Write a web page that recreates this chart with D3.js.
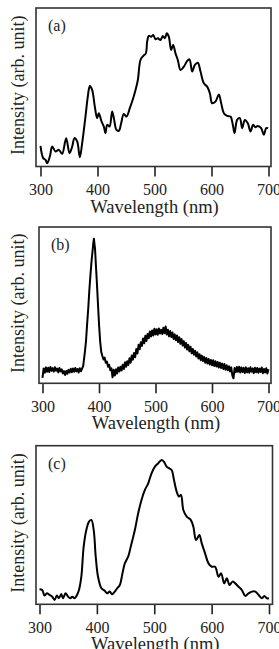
<!DOCTYPE html>
<html>
<head>
<meta charset="utf-8">
<script src="https://cdn.jsdelivr.net/npm/d3@7"></script>
<style>
  body { margin: 0; background: #fff; }
  svg { display: block; }
</style>
</head>
<body>
<div id="chart"></div>
<script>
// Data (intensity in arb. units, 0-100 of panel height)
var waveA = [300,304.7,308.8,311.7,316.4,320.5,326.3,332.2,338,345,350.9,355.6,359.6,364.3,369,373.1,378.9,383,386.6,390.6,395.3,399.4,402.3,407,411.1,414,417,421.1,425.7,428.7,433.3,437.4,441.5,446.2,450.9,456.7,462.6,466.7,470.8,475.4,480.1,484.8,487.1,490.1,494.2,497.7,501.8,505.9,510.5,514.6,518.1,521.6,525.1,529.2,532.7,536.8,540.9,545.6,551.5,557.3,561.4,566.1,570.8,576,580.7,586.6,592.4,597.1,601.2,607,612.9,617,621.7,627.5,633.3,637.4,640.4,645,649.7,653.8,658.5,663.7,668.4,673.1,677.2,681.3,687.1,691.8,695.9,699.4];
var intA = [13,5.3,4.2,2.1,6.3,12.6,9.5,10.5,8,17.9,8.4,12.6,17.9,15.8,5.9,14.7,31.5,44.1,50.8,48.3,37.8,30.5,33.6,28.4,25.2,21,26.3,25.2,34.7,30.5,23.1,22.5,27.3,33.2,31.5,36.8,43.1,48.3,54.6,67.2,69.7,71.4,78.8,82.4,81.9,83,80.3,80.9,79.8,82.4,80.9,84,81.9,73.5,76.7,71.4,67.2,60.9,63,66.6,67.6,59.9,64.1,65.5,59.9,52.5,50.4,46.2,39.9,41,45.4,39.9,33.6,31.9,31.5,26.3,21,29.4,30.5,24.2,29.4,27.3,22.1,26.3,24.8,25.6,24.2,20,24.2,24.2];

// panel (b): [wavelength, intensity] pairs, noisy trace
var specB = [
	[300,3.5],[302,9.5],[304,6.8],[306,10.2],[308,7.4],[310,9.9],[312,7.2],[314,10.4],[316,8],[318,9.7],
	[320,7.5],[322,10.3],[324,8.1],[326,9.4],[328,7],[330,9.8],[332,7.6],[334,8.9],[336,6.3],[338,7.8],
	[340,5.4],[342,7.9],[344,6.1],[346,8.6],[348,6.9],[350,9.3],[352,7.1],[354,9.5],[356,7.4],[358,9.8],
	[360,7.6],[362,9.2],[364,6.9],[366,9.6],[368,7.7],[370,9.4],[372,11],[373,14],[375,20],[377,27],
	[379,38],[381,48],[383,60],[385,70],[387,79],[389,86],[390,90],[391,92.5],[392,89],[393,86],
	[394,79],[396,66],[398,52],[400,38],[402,27],[404,20],[406,17.5],[408,15.2],[410,16.4],[412,13.1],
	[414,13.9],[416,10.6],[418,11.8],[420,8.4],[422,9.6],[424,3.8],[426,8.6],[428,5],[430,9],[432,6.2],
	[434,10.1],[436,7.5],[438,10.6],[440,8.2],[442,11.9],[444,9.1],[446,13.4],[448,10.6],[450,14.1],[452,11.8],
	[454,16],[456,13.2],[458,17.8],[460,15.1],[462,19.4],[464,16.7],[466,21.9],[468,19],[470,24.6],[472,21.8],
	[474,26.3],[476,23.9],[478,28.7],[480,25.6],[482,30.4],[484,27.1],[486,31.6],[488,28.8],[490,33.2],[492,29.9],
	[494,33.8],[496,30.6],[498,34.9],[500,31.2],[502,34.6],[504,31],[506,35.1],[508,31.9],[510,34.3],[512,31.5],
	[514,35.6],[516,32],[518,36.4],[520,31.2],[522,34.2],[524,30.1],[526,33.4],[528,29.6],[530,32.5],[532,28.4],
	[534,31.3],[536,27.5],[538,30.6],[540,26.4],[542,29.5],[544,25.3],[546,28.4],[548,24.2],[550,27],[552,22.9],
	[554,25.8],[556,21.6],[558,24.6],[560,20.5],[562,23.4],[564,19.2],[566,22],[568,18.3],[570,20.8],[572,17.1],
	[574,19.9],[576,15.9],[578,18.6],[580,14.8],[582,17.7],[584,14.2],[586,16.9],[588,13.1],[590,16.2],[592,12.6],
	[594,15.5],[596,12],[598,14.9],[600,11.6],[602,14.8],[604,11],[606,14.1],[608,10.7],[610,13.6],[612,10.1],
	[614,13.2],[616,9.8],[618,12.6],[620,9.2],[622,12.3],[624,8.7],[626,11.6],[628,8.3],[630,10.9],[632,7.6],
	[634,10.2],[636,5.1],[638,3.2],[640,9.8],[642,7.1],[644,10.4],[646,7.3],[648,10.6],[650,6.9],[652,10.1],
	[654,7.2],[656,9.9],[658,6.6],[660,10.2],[662,7],[664,9.6],[666,6.8],[668,10.3],[670,7.4],[672,9.5],
	[674,6.5],[676,10],[678,7.1],[680,9.8],[682,6.7],[684,9.4],[686,7.3],[688,10.1],[690,6.4],[692,9.2],
	[694,7],[696,9.6],[698,6.2],[700,9]
];

var waveC = [300,304.7,308.7,312.8,317.5,322.2,326.2,330.3,333.8,337.9,340.8,345.5,350,353.6,357.1,361.2,365.3,368.8,372.9,377,381.6,386.3,390.4,394.5,398,402,407.9,413.7,417.8,422.4,426.5,431.2,435.3,440,444.6,448.7,454.5,460.4,466.2,472,477.8,483.7,489.5,495.3,501.2,507,512.8,516.9,521.6,526.2,530.3,534.4,539.1,543.2,546.6,550.7,556.6,563.6,568.2,572.9,578.7,582.8,588.6,594.5,600.3,606.1,612,616.6,621.9,626.5,631.2,636.4,641.1,646.9,652.8,658.6,664.4,670.3,676.1,681.9,687.8,691.8,696.5,700];
var intC = [9.5,9,5.5,6.9,5.9,4.8,2.7,5.5,3.8,6.5,3.8,6.9,4.8,3.8,4.8,3.8,5.9,9,17.4,36.3,46.8,52.1,53.2,46.8,30,17.4,10.1,8.6,6.9,8,6.3,8,10.1,12.2,19.5,25.8,30,38.4,46.8,57.4,65.8,72.1,76.3,82.6,86.8,88.9,91,89.9,86.8,85.7,84.7,78.4,71,67.9,69,59.5,55.3,53.2,48.9,40.5,43.7,38.4,32.1,25.8,23.7,23.7,17.4,19.5,13.2,16.4,12.2,14.3,13.2,11.1,9,5.3,6.9,8,8,5.9,3.8,5.3,3.8,3.8];

var xTicks = [300, 400, 500, 600, 700];
var panelLabels = ["(a)", "(b)", "(c)"];

var W = 279, H = 649;
var svg = d3.select("#chart").append("svg")
	.attr("width", W)
	.attr("height", H);

var rowsA = waveA.map(function(w, i) { return { w: w, v: intA[i] }; });
var rowsB = specB.map(function(d) { return { w: d[0], v: d[1] }; });
var rowsC = waveC.map(function(w, i) { return { w: w, v: intC[i] }; });

// Frame geometry for each panel (pixels)
var panels = [
	{ label: panelLabels[0], rows: rowsA, left: 36, right: 271, top: 8, bottom: 166.5, x0: 40.5, x1: 268.5, curve: d3.curveCatmullRom },
	{ label: panelLabels[1], rows: rowsB, left: 39, right: 271, top: 227, bottom: 383.3, x0: 42.5, x1: 268.5, curve: d3.curveLinear },
	{ label: panelLabels[2], rows: rowsC, left: 36, right: 272.5, top: 445.7, bottom: 604.3, x0: 39.5, x1: 269, curve: d3.curveCatmullRom }
];

var serif = "'Liberation Serif', 'DejaVu Serif', serif";

panels.forEach(function(p) {
	var xScale = d3.scaleLinear().domain([300, 700]).range([p.x0, p.x1]);
	var yScale = d3.scaleLinear().domain([0, 100]).range([p.bottom, p.top]);

	// x axis ticks (outward)
	var xAxis = d3.axisBottom(xScale)
		.tickValues(xTicks)
		.tickSize(10)
		.tickSizeOuter(0)
		.tickPadding(7)
		.tickFormat(d3.format("d"));
	var gx = svg.append("g")
		.attr("transform", "translate(0," + p.bottom + ")")
		.call(xAxis);
	gx.select(".domain").remove();
	gx.selectAll(".tick line")
		.attr("stroke", "#222")
		.attr("stroke-width", 1.6);
	gx.selectAll(".tick text")
		.attr("fill", "#222")
		.style("font-family", serif)
		.style("font-size", "16px");

	// the curve
	svg.append("path")
		.datum(p.rows)
		.attr("fill", "none")
		.attr("stroke", "#000")
		.attr("stroke-width", 2)
		.attr("stroke-linejoin", "round")
		.attr("d", d3.line()
			.curve(p.curve)
			.x(function(d) { return xScale(d.w); })
			.y(function(d) { return yScale(d.v); }));

	// frame
	svg.append("rect")
		.attr("x", p.left)
		.attr("y", p.top)
		.attr("width", p.right - p.left)
		.attr("height", p.bottom - p.top)
		.attr("fill", "none")
		.attr("stroke", "#333")
		.attr("stroke-width", 1.6);

	// panel letter
	svg.append("text")
		.attr("x", p.left + 12)
		.attr("y", p.top + 23)
		.style("font-family", serif)
		.style("font-size", "16px")
		.attr("fill", "#222")
		.text(p.label);

	// axis labels
	svg.append("text")
		.attr("x", (p.left + p.right) / 2 + 1)
		.attr("y", p.bottom + 46)
		.attr("text-anchor", "middle")
		.style("font-family", serif)
		.style("font-size", "18.5px")
		.attr("fill", "#222")
		.text("Wavelength (nm)");

	svg.append("text")
		.attr("transform", "translate(24," + ((p.top + p.bottom) / 2 - 2) + ") rotate(-90)")
		.attr("text-anchor", "middle")
		.style("font-family", serif)
		.style("font-size", "18px")
		.attr("fill", "#222")
		.text("Intensity (arb. unit)");
});
</script>
</body>
</html>
